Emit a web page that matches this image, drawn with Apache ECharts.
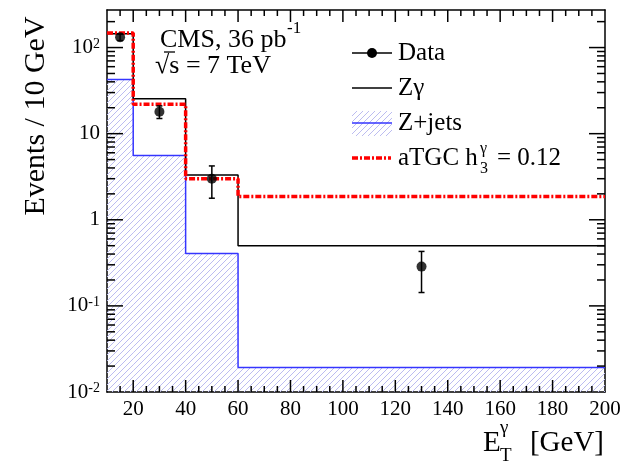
<!DOCTYPE html>
<html>
<head>
<meta charset="utf-8">
<script src="https://cdn.jsdelivr.net/npm/echarts@6/dist/echarts.min.js"></script>
<style>
  html, body { margin: 0; padding: 0; background: #fff; }
  #chart { width: 637px; height: 465px; }
</style>
</head>
<body>
<div id="chart"></div>
<script>
// Histogram bin edges in photon E_T (GeV)
const binEdges = [10, 20, 40, 60, 200];
// Expected events / 10 GeV in each bin
const zGammaValues = [145, 25.4, 3.32, 0.50];
const zJetsValues = [42.6, 5.56, 0.407, 0.0193];
const atgcValues = [148, 21.9, 2.99, 1.86];
// Observed data: bin centres, values and error bar ends
const dataX = [15, 30, 50, 130];
const dataY = [132, 18, 3.0, 0.286];
const dataLow = [120.5, 15.0, 1.78, 0.143];
const dataHigh = [143.5, 21.0, 4.22, 0.429];
// Axis ranges and labelled ticks
const xTickValues = [20, 40, 60, 80, 100, 120, 140, 160, 180, 200];
const xRange = [10, 200];
const yRange = [0.01, 273];

const FONT = 'Liberation Serif';
const HATCH_COLOR = '#bcbcf0';
const BLUE = '#3535ff';

// Turn bin contents into step-line points (last value repeated at the upper edge)
function stepPoints(values) {
  const pts = values.map((v, i) => [binEdges[i], v]);
  pts.push([binEdges[binEdges.length - 1], values[values.length - 1]]);
  return pts;
}

// Diagonal "/" hatch lines filling a pixel rectangle, on a common global grid
function hatchLines(x0, y0, x1, y1, z) {
  const out = [];
  const step = 6;
  for (let c = Math.ceil((x0 + y0) / step) * step; c <= x1 + y1; c += step) {
    const xa = Math.max(x0, c - y1);
    const xb = Math.min(x1, c - y0);
    if (xb <= xa) continue;
    const el = { type: 'line', silent: true, shape: { x1: xa, y1: c - xa, x2: xb, y2: c - xb }, style: { stroke: HATCH_COLOR, lineWidth: 1 } };
    if (z !== undefined) el.z = z;
    out.push(el);
  }
  return out;
}

// Hatched fill of one Z+jets bin, from its content down to the axis floor
function renderHatch(params, api) {
  const a = api.coord([api.value(0), api.value(2)]);
  const b = api.coord([api.value(1), yRange[0]]);
  return { type: 'group', children: hatchLines(a[0], a[1], b[0], b[1]) };
}

const lineEl = (x1, y1, x2, y2) => ({ type: 'line', shape: { x1, y1, x2, y2 }, style: { stroke: '#000', lineWidth: 1.5 } });

// Frame ticks on all four sides: major every 20 GeV / each decade, minor every 5 GeV / 2..9 per decade
function frameTicks(api) {
  const out = [];
  const bl = api.coord([xRange[0], yRange[0]]);
  const tr = api.coord([xRange[1], yRange[1]]);
  for (let v = xRange[0] + 5; v < xRange[1]; v += 5) {
    const len = v % 20 === 0 ? 12 : 6;
    const px = api.coord([v, yRange[0]])[0];
    out.push(lineEl(px, bl[1], px, bl[1] - len));
    out.push(lineEl(px, tr[1], px, tr[1] + len));
  }
  for (let d = -2; d <= 2; d++) {
    for (let m = 1; m <= 9; m++) {
      const v = m * Math.pow(10, d);
      if (v > yRange[1] || (d === -2 && m === 1)) continue;
      const len = m === 1 ? 16 : 8;
      const py = api.coord([xRange[0], v])[1];
      out.push(lineEl(bl[0], py, bl[0] + len, py));
      out.push(lineEl(tr[0], py, tr[0] - len, py));
    }
  }
  return out;
}

// Vertical error bars with small end caps (the first item also carries the frame ticks)
function renderErrorBar(params, api) {
  const x = api.value(0);
  const lo = api.coord([x, api.value(1)]);
  const hi = api.coord([x, api.value(2)]);
  let children = [
    lineEl(lo[0], lo[1], hi[0], hi[1]),
    lineEl(lo[0] - 3, lo[1], lo[0] + 3, lo[1]),
    lineEl(hi[0] - 3, hi[1], hi[0] + 3, hi[1])
  ];
  if (params.dataIndex === 0) children = children.concat(frameTicks(api));
  return { type: 'group', children };
}

const chart = echarts.init(document.getElementById('chart'));

function xAxisDef(pos, showLabels) {
  return {
    type: 'value', position: pos, min: xRange[0], max: xRange[1],
    axisLine: { show: true, lineStyle: { color: '#000', width: 1.5 } },
    axisTick: { show: false },
    axisLabel: { show: showLabels, customValues: xTickValues, fontFamily: FONT, fontSize: 21, color: '#000', margin: 7 },
    splitLine: { show: false }
  };
}
// Decade labels: 10^n written with a raised exponent, plain 1 and 10
function decadeLabel(v) {
  const l = Math.log10(v);
  const e = Math.round(l);
  if (Math.abs(l - e) > 1e-6) return '';
  if (e === 0) return '{b|1}';
  if (e === 1) return '{b|10}';
  return '{b|10}{s|' + e + '}';
}
function yAxisDef(pos, showLabels) {
  return {
    type: 'log', position: pos, min: yRange[0], max: yRange[1],
    axisLine: { show: true, lineStyle: { color: '#000', width: 1.5 } },
    axisTick: { show: false },
    axisLabel: {
      show: showLabels, margin: 7, color: '#000',
      formatter: decadeLabel,
      rich: {
        b: { fontFamily: FONT, fontSize: 21, color: '#000' },
        s: { fontFamily: FONT, fontSize: 14, color: '#000', verticalAlign: 'top' }
      }
    },
    splitLine: { show: false }
  };
}

const txt = (text, x, y, size, extra) => ({
  type: 'text', x, y, silent: true, z: 20,
  style: Object.assign({ text, fill: '#000', fontFamily: FONT, fontSize: size, verticalAlign: 'middle' }, extra || {})
});
const seg = (x1, y1, x2, y2, style) => ({ type: 'line', silent: true, z: 20, shape: { x1, y1, x2, y2 }, style: Object.assign({}, style) });

const labels = [
  // Axis titles
  Object.assign(txt('Events / 10 GeV', 0, 0, 30, { align: 'center' }), { x: 36, y: 116, rotation: Math.PI / 2 }),
  txt('E', 483, 443, 29),
  txt('\u03b3', 500, 428, 19),
  txt('T', 500, 456, 19),
  txt('[GeV]', 604, 443, 29, { align: 'right' }),
  // Experiment label
  txt('CMS, 36 pb', 160, 40, 26),
  txt('-1', 287, 29, 17),
  txt('\u221as = 7 TeV', 155, 66, 26),
  seg(164, 52, 175, 52, { stroke: '#000', lineWidth: 1.3 }),
  // Legend
  seg(352, 53, 392, 53, { stroke: '#000', lineWidth: 1.5 }),
  { type: 'circle', silent: true, z: 20, shape: { cx: 372, cy: 53, r: 5 }, style: { fill: '#000' } },
  txt('Data', 398, 53, 25),
  seg(352, 88, 392, 88, { stroke: '#000', lineWidth: 1.5 }),
  txt('Z\u03b3', 398, 88, 25)
].concat(hatchLines(352, 111, 392, 136, 19), [
  seg(352, 123, 392, 123, { stroke: BLUE, lineWidth: 1.5 }),
  txt('Z+jets', 398, 123, 25),
  seg(352, 158, 391, 158, { stroke: '#ff0000', lineWidth: 3.5, lineDash: [6, 2, 2, 2] }),
  txt('aTGC h', 398, 158, 25),
  txt('\u03b3', 480, 149, 16),
  txt('3', 480, 169, 16),
  txt('= 0.12', 497, 158, 25)
]);

chart.setOption({
  animation: false,
  grid: { left: 107, right: 32, top: 10, bottom: 73 },
  xAxis: [xAxisDef('bottom', true), xAxisDef('top', false)],
  yAxis: [yAxisDef('left', true), yAxisDef('right', false)],
  series: [
    {
      name: 'Z+jets fill', type: 'custom', renderItem: renderHatch,
      data: zJetsValues.map((v, i) => [binEdges[i], binEdges[i + 1], v]),
      encode: { x: [0, 1], y: 2 }, silent: true, z: 1
    },
    {
      name: 'Z+jets', type: 'line', step: 'end', data: stepPoints(zJetsValues),
      showSymbol: false, symbol: 'none',
      lineStyle: { color: BLUE, width: 1.5 }, z: 2
    },
    {
      name: 'Z\u03b3', type: 'line', step: 'end', data: stepPoints(zGammaValues),
      showSymbol: false, symbol: 'none',
      lineStyle: { color: '#000', width: 1.5 }, z: 3
    },
    {
      name: 'aTGC', type: 'line', step: 'end', data: stepPoints(atgcValues),
      showSymbol: false, symbol: 'none',
      lineStyle: { color: '#ff0000', width: 3.5, type: [6, 2, 2, 2] }, z: 4
    },
    {
      name: 'Data errors', type: 'custom', renderItem: renderErrorBar,
      data: dataX.map((x, i) => [x, dataLow[i], dataHigh[i]]),
      encode: { x: 0, y: [1, 2] }, silent: true, clip: false, z: 5
    },
    {
      name: 'Data', type: 'scatter', data: dataX.map((x, i) => [x, dataY[i]]),
      symbol: 'circle', symbolSize: 10, itemStyle: { color: '#000' }, z: 6
    }
  ],
  graphic: labels
});
</script>
</body>
</html>
